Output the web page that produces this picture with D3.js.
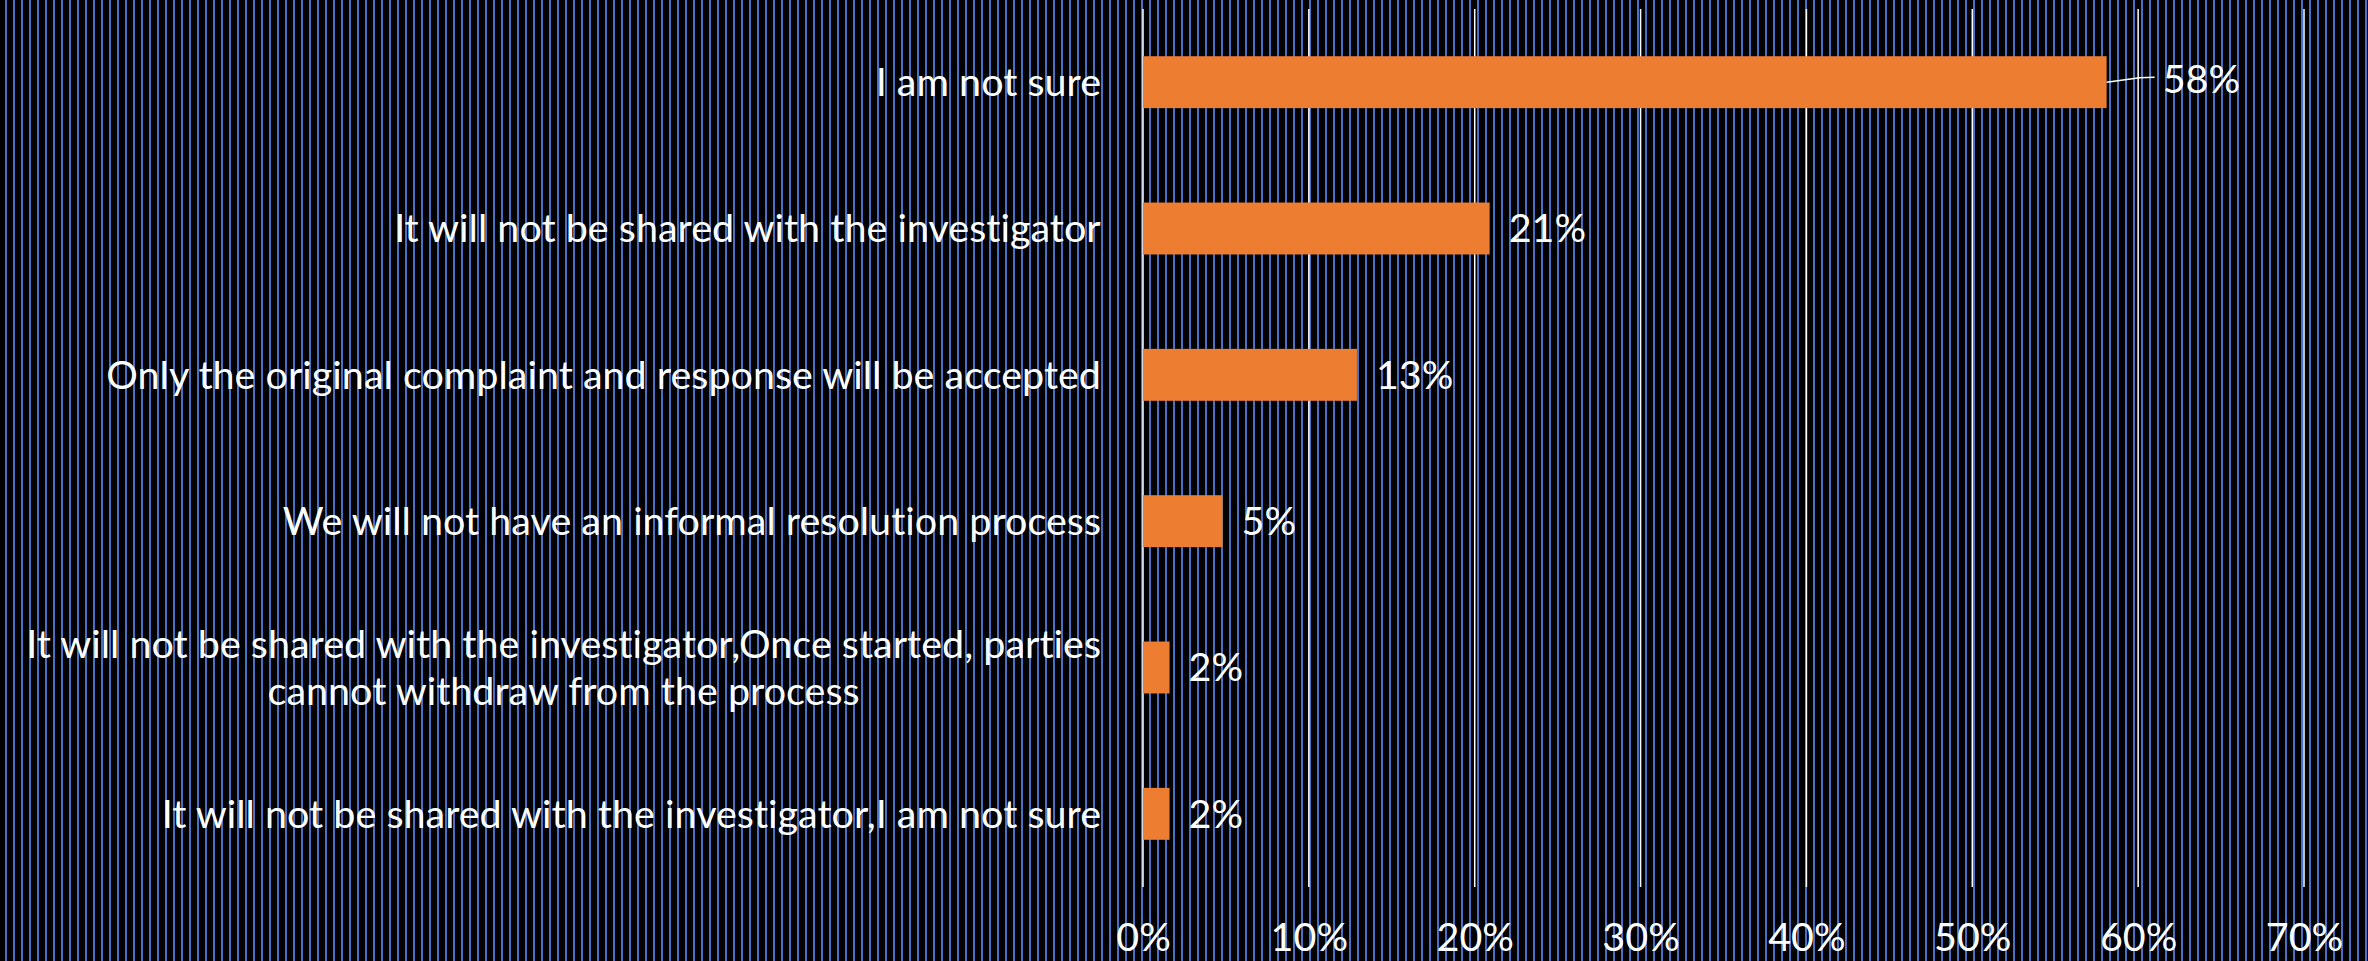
<!DOCTYPE html>
<meta charset="utf-8">
<head>
    <script src="https://d3js.org/d3.v7.min.js"></script>
    <style>
        body { margin: 0; background: #000; }
        text { font-family: Lato, "Open Sans", sans-serif; fill: #fff; font-variant-ligatures: none; }
    </style>
</head>
<body>
<div id="main"></div>

<script>
    // answers, top to bottom (a "\n" marks where the label wraps)
    const categories = [
        "I am not sure",
        "It will not be shared with the investigator",
        "Only the original complaint and response will be accepted",
        "We will not have an informal resolution process",
        "It will not be shared with the investigator,Once started, parties\ncannot withdraw from the process",
        "It will not be shared with the investigator,I am not sure"
    ]
    const shares = [0.581, 0.209, 0.129, 0.048, 0.016, 0.016]
    const ticks = [0, 0.1, 0.2, 0.3, 0.4, 0.5, 0.6, 0.7]

    const width = 2368
    const height = 961
    const fontSize = 39.5

    const svg = d3.select("#main").append("svg")
        .attr("width", width)
        .attr("height", height)

    // striped backdrop
    const pattern = svg.append("defs").append("pattern")
        .attr("id", "stripes")
        .attr("patternUnits", "userSpaceOnUse")
        .attr("width", 8)
        .attr("height", 8)
    pattern.append("rect").attr("width", 8).attr("height", 8).attr("fill", "#000")
    pattern.append("rect").attr("x", 5).attr("width", 2).attr("height", 8).attr("fill", "#4472C4")

    svg.append("rect")
        .attr("width", width)
        .attr("height", height)
        .attr("fill", "url(#stripes)")

    const x = d3.scaleLinear()
        .domain([0, 0.7])
        .range([1143, 2304])

    const y = d3.scaleBand()
        .domain(categories)
        .range([9, 887])
        .paddingInner(0.645)
        .paddingOuter(0.3225)

    // gridlines
    svg.append("g")
        .selectAll("line")
        .data(ticks)
        .join("line")
        .attr("x1", d => x(d))
        .attr("x2", d => x(d))
        .attr("y1", 9)
        .attr("y2", 887)
        .attr("stroke", "#fff")
        .attr("stroke-width", 1.5)

    // bottom axis labels
    const bottomAxis = d3.axisBottom(x)
        .tickValues(ticks)
        .tickFormat(d3.format(".0%"))
        .tickSize(0)
        .tickPadding(0)
    const xAxis = svg.append("g")
        .attr("transform", `translate(0, 951)`)
        .call(bottomAxis)
    xAxis.select(".domain").remove()
    xAxis.selectAll("text")
        .attr("dy", 0)
        .attr("fill", "#fff")
        .style("font-size", fontSize + "px")
        .style("font-family", "Lato, sans-serif")

    // category labels, wrapped lines centred in a right-aligned block
    const labels = svg.append("g")
    categories.forEach(c => {
        const lines = c.split("\n")
        const t = labels.append("text")
            .attr("y", y(c) + y.bandwidth() / 2)
            .style("font-size", fontSize + "px")
            .attr("text-anchor", "middle")
        lines.forEach((line, i) => {
            t.append("tspan")
                .attr("x", 0)
                .attr("dy", i === 0 ? `${0.35 - (lines.length - 1) * 0.6}em` : "1.2em")
                .text(line)
        })
        const w = t.node().getBBox().width
        t.selectAll("tspan").attr("x", 1101 - w / 2)
    })

    // bars
    svg.append("g")
        .selectAll("rect")
        .data(shares)
        .join("rect")
        .attr("x", x(0))
        .attr("y", (d, i) => y(categories[i]))
        .attr("width", d => x(d) - x(0))
        .attr("height", y.bandwidth())
        .attr("fill", "#ED7D31")

    // value labels; the largest one is pulled out with a leader line
    const cy = i => y(categories[i]) + y.bandwidth() / 2
    svg.append("g")
        .selectAll("text")
        .data(shares)
        .join("text")
        .attr("x", (d, i) => x(d) + (i === 0 ? 56 : 19))
        .attr("y", (d, i) => cy(i) - (i === 0 ? 3 : 0))
        .attr("dy", "0.35em")
        .style("font-size", fontSize + "px")
        .text(d => d3.format(".0%")(d))

    const end = x(shares[0])
    svg.append("path")
        .attr("d", `M${end},${cy(0)} L${end + 33},${cy(0) - 4.5} L${end + 48},${cy(0) - 5}`)
        .attr("fill", "none")
        .attr("stroke", "#fff")
        .attr("stroke-width", 1.5)
</script>
</body>
